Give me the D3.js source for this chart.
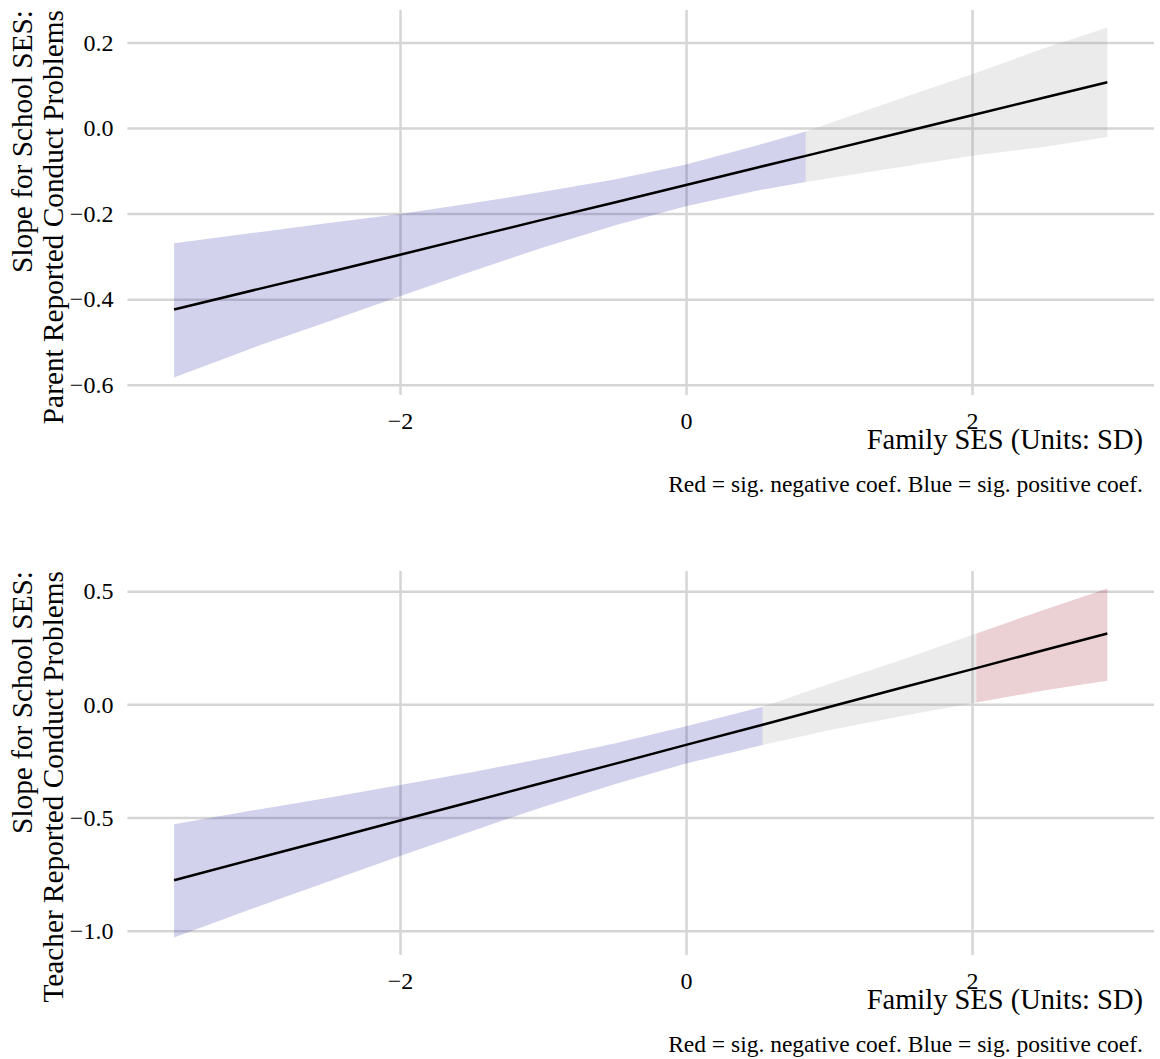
<!DOCTYPE html>
<html>
<head>
<meta charset="utf-8">
<script src="https://cdn.jsdelivr.net/npm/d3@7"></script>
<style>
  body { margin: 0; background: #fff; }
  svg text { font-family: "Liberation Serif", "Times New Roman", serif; fill: #000; }
</style>
</head>
<body>
<svg></svg>
<script>
// family SES grid (SD units) for each panel
let parentSES = [-3.58, -3, -2.5, -2, -1.5, -1, -0.5, 0, 0.5, 0.837, 1.5, 2, 2.5, 2.946]
let parentFit = [-0.424, -0.377, -0.337, -0.296, -0.255, -0.214, -0.174, -0.133, -0.092, -0.065, -0.011, 0.030, 0.071, 0.107]
let parentLo  = [-0.583, -0.510, -0.452, -0.393, -0.335, -0.279, -0.228, -0.183, -0.146, -0.126, -0.091, -0.065, -0.044, -0.021]
let parentHi  = [-0.269, -0.244, -0.222, -0.201, -0.176, -0.149, -0.120, -0.085, -0.040, -0.008, 0.069, 0.126, 0.186, 0.235]
let parentSig = ['blue', 'blue', 'blue', 'blue', 'blue', 'blue', 'blue', 'blue', 'blue', 'blue', 'grey', 'grey', 'grey', 'grey']

let teacherSES = [-3.58, -3, -2.5, -2, -1.5, -1, -0.5, 0, 0.536, 1, 1.5, 2.03, 2.5, 2.946]
let teacherFit = [-0.777, -0.680, -0.597, -0.513, -0.430, -0.346, -0.263, -0.179, -0.090, -0.012, 0.072, 0.160, 0.239, 0.313]
let teacherLo  = [-1.030, -0.895, -0.782, -0.670, -0.560, -0.453, -0.353, -0.261, -0.179, -0.114, -0.052, 0.008, 0.061, 0.104]
let teacherHi  = [-0.530, -0.465, -0.412, -0.356, -0.300, -0.239, -0.173, -0.097, -0.010, 0.090, 0.195, 0.313, 0.417, 0.512]
let teacherSig = ['blue', 'blue', 'blue', 'blue', 'blue', 'blue', 'blue', 'blue', 'blue', 'grey', 'grey', 'grey', 'red', 'red']

let xTicks = [-2, 0, 2]
let parentTicks = [-0.6, -0.4, -0.2, 0.0, 0.2]
let teacherTicks = [-1.0, -0.5, 0.0, 0.5]

let yTitleTop = 'Slope for School SES:'
let parentTitle = 'Parent Reported Conduct Problems'
let teacherTitle = 'Teacher Reported Conduct Problems'
let xTitle = 'Family SES (Units: SD)'
let caption = 'Red = sig. negative coef. Blue = sig. positive coef.'

let width = 1160
let height = 1059
let left = 127.4
let right = 1154

let fills = { blue: '#1f1fa0', grey: '#999999', red: '#a01a2a' }

let svg = d3.select('svg')
    .attr('width', width)
    .attr('height', height)

// ggplot style 5% expansion
let expand = (ext) => {
    let pad = (ext[1] - ext[0]) * 0.05
    return [ext[0] - pad, ext[1] + pad]
}

let drawPanel = (p) => {
    let rows = p.ses.map((s, i) => ({ ses: s, fit: p.fit[i], lo: p.lo[i], hi: p.hi[i], sig: p.sig[i] }))

    let xscale = d3.scaleLinear()
        .domain(expand(d3.extent(p.ses)))
        .range([left, right])
    let yscale = d3.scaleLinear()
        .domain(expand([d3.min(p.lo), d3.max(p.hi)]))
        .range([p.bottom, p.top])

    let g = svg.append('g')

    // gridlines + tick labels
    let yAxis = d3.axisLeft(yscale)
        .tickValues(p.ticks)
        .tickFormat(d3.format('.1f'))
        .tickSize(-(right - left))
        .tickPadding(14)
    g.append('g')
        .attr('transform', 'translate(' + left + ',0)')
        .call(yAxis)
        .call(a => a.select('.domain').remove())
        .call(a => a.selectAll('line').attr('stroke', '#d5d5d5').attr('stroke-width', 2.5))
        .call(a => a.selectAll('text').attr('font-size', 24).attr('fill', '#000'))

    let xAxis = d3.axisBottom(xscale)
        .tickValues(xTicks)
        .tickFormat(d3.format('d'))
        .tickSize(-(p.bottom - p.top))
    g.append('g')
        .attr('transform', 'translate(0,' + p.bottom + ')')
        .call(xAxis)
        .call(a => a.select('.domain').remove())
        .call(a => a.selectAll('line').attr('stroke', '#d5d5d5').attr('stroke-width', 2.5))
        .call(a => a.selectAll('text').attr('font-size', 24).attr('fill', '#000')
            .attr('y', 34).attr('dy', null))

    // ribbons, one per run of significance; each run starts at the previous run's last point
    let area = d3.area()
        .x(d => xscale(d.ses))
        .y0(d => yscale(d.lo))
        .y1(d => yscale(d.hi))
    let start = 0
    rows.forEach((d, i) => {
        if (i == rows.length - 1 || rows[i + 1].sig != d.sig) {
            let seg = rows.slice(Math.max(0, start - 1), i + 1)
            g.append('path')
                .attr('d', area(seg))
                .attr('fill', fills[d.sig])
                .attr('fill-opacity', 0.2)
            start = i + 1
        }
    })

    let line = d3.line()
        .x(d => xscale(d.ses))
        .y(d => yscale(d.fit))
    g.append('path')
        .attr('d', line(rows))
        .attr('fill', 'none')
        .attr('stroke', '#000')
        .attr('stroke-width', 2.5)

    // axis titles
    let yt = g.append('text')
        .attr('transform', 'translate(32,' + p.top + ') rotate(-90)')
        .attr('text-anchor', 'end')
        .attr('font-size', 29.3)
    yt.append('tspan').attr('x', 0).attr('y', 0).text(yTitleTop)
    yt.append('tspan').attr('x', 0).attr('y', 31).text(p.title)

    g.append('text')
        .attr('x', 1143)
        .attr('y', p.bottom + 54)
        .attr('text-anchor', 'end')
        .attr('font-size', 28.5)
        .text(xTitle)

    g.append('text')
        .attr('x', 1143)
        .attr('y', p.bottom + 97)
        .attr('text-anchor', 'end')
        .attr('font-size', 23.5)
        .text(caption)
}

drawPanel({ ses: parentSES, fit: parentFit, lo: parentLo, hi: parentHi, sig: parentSig,
    ticks: parentTicks, title: parentTitle, top: 10, bottom: 395 })
drawPanel({ ses: teacherSES, fit: teacherFit, lo: teacherLo, hi: teacherHi, sig: teacherSig,
    ticks: teacherTicks, title: teacherTitle, top: 571, bottom: 955 })
</script>
</body>
</html>
